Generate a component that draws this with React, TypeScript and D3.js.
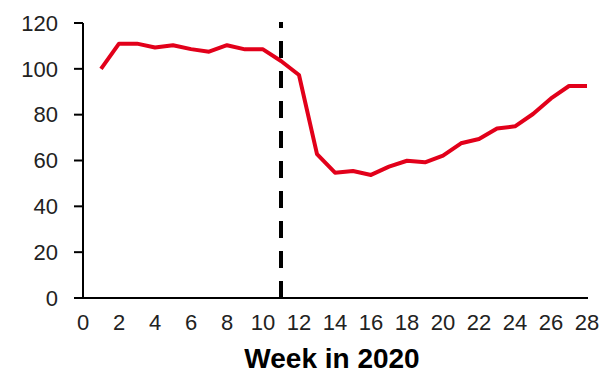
import React from "react";
import * as d3 from "d3";

const weeks = [1,2,3,4,5,6,7,8,9,10,11,12,13,14,15,16,17,18,19,20,21,22,23,24,25,26,27,28];
const values = [100,111,111,109.3,110.3,108.6,107.5,110.3,108.5,108.5,103.4,97.3,62.8,54.7,55.4,53.7,57.3,59.9,59.2,62.1,67.5,69.4,74,74.9,80.3,87.1,92.5,92.5];
const xTicks = [0,2,4,6,8,10,12,14,16,18,20,22,24,26,28];
const yTicks = [0,20,40,60,80,100,120];
const markerWeek = 11;
const xLabel = "Week in 2020";

export default function App() {
  const W = 602, H = 373;
  const x = d3.scaleLinear().domain([0, 28]).range([83, 587]);
  const y = d3.scaleLinear().domain([0, 120]).range([298, 23]);
  const line = d3.line<number>().x((_, i) => x(weeks[i])).y(d => y(d));
  const font = "'Liberation Sans', Arial, sans-serif";
  return (
    <svg width={W} height={H} style={{ position: "absolute", left: 0, top: 0 }}>
      <rect width={W} height={H} fill="#fff" />
      {/* y axis */}
      <line x1={x(0)} x2={x(0)} y1={y(120)} y2={y(0)} stroke="#000" strokeWidth={2} />
      {yTicks.map(t => (
        <g key={t}>
          <line x1={x(0) - 9} x2={x(0)} y1={y(t)} y2={y(t)} stroke="#000" strokeWidth={2} />
          <text x={58} y={y(t)} dy="0.35em" textAnchor="end" fontFamily={font} fontSize={22} fill="#222">{t}</text>
        </g>
      ))}
      {/* x axis */}
      <line x1={x(0) - 9} x2={x(28) + 1} y1={y(0)} y2={y(0)} stroke="#000" strokeWidth={2} />
      {xTicks.map(t => (
        <text key={t} x={x(t)} y={330} textAnchor="middle" fontFamily={font} fontSize={22} fill="#222">{t}</text>
      ))}
      <text x={332} y={368} textAnchor="middle" fontFamily={font} fontWeight="bold" fontSize={28} fill="#000">{xLabel}</text>
      {/* marker */}
      <line x1={x(markerWeek)} x2={x(markerWeek)} y1={y(0)} y2={22} stroke="#000" strokeWidth={4} strokeDasharray="17,13" />
      <path d={line(values) || ""} fill="none" stroke="#e2001a" strokeWidth={4} strokeLinejoin="round" />
    </svg>
  );
}
